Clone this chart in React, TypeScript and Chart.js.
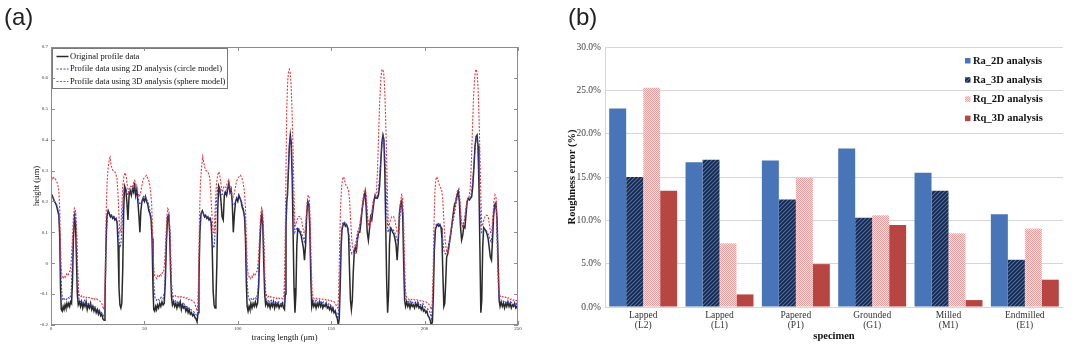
import React, { useEffect, useRef } from "react";
import { Chart, registerables } from "chart.js";

Chart.register(...registerables);

const SERIF = '"Liberation Serif", "Times New Roman", serif';
const SANS = '"Liberation Sans", Arial, sans-serif';

// ---------------- Panel (a): surface profiles ----------------
const profileXTicks = [0, 50, 100, 150, 200, 250];
const profileLegend = [
  "Original profile data",
  "Profile data using 2D analysis (circle model)",
  "Profile data using 3D analysis (sphere model)",
];

const originalProfile: [number, number][] = [
  [0,0.225],[0.6,0.22],[1.2,0.21],[1.8,0.2],[2.4,0.195],[3,0.185],[3.6,0.17],[4.2,0.155],[4.7,0.08],[5.1,-0.08],[5.5,-0.15],[6,-0.155],[6.5,-0.14],[7,-0.15],[7.5,-0.135],[8,-0.145],[8.5,-0.13],[9,-0.14],[9.5,-0.13],[10,-0.14],[10.5,-0.125],[11,-0.13],[11.5,-0.06],[12,0.08],[12.6,0.15],[13.1,0.13],[13.6,0.02],[14.1,-0.1],[14.6,-0.135],[15.2,-0.125],[15.8,-0.14],[16.4,-0.125],[17,-0.145],[17.6,-0.13],[18.2,-0.14],[18.8,-0.125],[19.4,-0.15],[20,-0.135],[20.6,-0.145],[21.2,-0.13],[21.8,-0.15],[22.4,-0.14],[23,-0.155],[23.6,-0.145],[24.2,-0.16],[24.8,-0.15],[25.4,-0.165],[26,-0.155],[26.6,-0.17],[27.2,-0.165],[27.8,-0.18],[28.4,-0.185],[28.9,-0.12],[29.4,0.05],[29.9,0.15],[30.6,0.17],[31.2,0.16],[31.8,0.15],[32.4,0.155],[33,0.145],[33.6,0.15],[34.2,0.14],[34.8,0.145],[35.4,0.13],[35.9,0.06],[36.4,-0.08],[36.9,-0.135],[37.4,-0.145],[37.9,-0.13],[38.4,-0.02],[38.9,0.17],[39.4,0.25],[40,0.24],[40.6,0.2],[41.2,0.14],[41.8,0.22],[42.4,0.235],[43,0.22],[43.6,0.24],[44.2,0.23],[44.7,0.26],[45.3,0.22],[45.9,0.24],[46.5,0.2],[47.1,0.15],[47.6,0.1],[48.1,0.17],[48.7,0.2],[49.3,0.21],[50,0.2],[50.6,0.215],[51.2,0.2],[51.8,0.19],[52.4,0.17],[53,0.16],[53.6,0.14],[54.1,0.08],[54.6,-0.08],[55,-0.15],
  [55.5,-0.155],[56,-0.14],[56.5,-0.15],[57,-0.135],[57.6,-0.145],[58.2,-0.13],[58.8,-0.14],[59.4,-0.125],[60,-0.135],[60.6,-0.13],[61.2,-0.06],[61.8,0.07],[62.4,0.15],[63,0.155],[63.5,0.1],[64,-0.02],[64.5,-0.11],[65,-0.135],[65.6,-0.125],[66.2,-0.14],[66.8,-0.13],[67.4,-0.145],[68,-0.13],[68.6,-0.14],[69.2,-0.125],[69.8,-0.15],[70.4,-0.135],[71,-0.145],[71.6,-0.14],[72.2,-0.155],[72.8,-0.145],[73.4,-0.16],[74,-0.15],[74.6,-0.165],[75.2,-0.16],[75.8,-0.17],[76.4,-0.165],[77,-0.175],[77.6,-0.18],[78.2,-0.19],[78.7,-0.16],[79.2,-0.05],[79.7,0.1],[80.3,0.16],[81,0.17],[81.6,0.16],[82.2,0.15],[82.8,0.155],[83.4,0.145],[84,0.15],[84.6,0.14],[85.2,0.145],[85.8,0.13],[86.3,0.05],[86.8,-0.09],[87.3,-0.135],[87.8,-0.145],[88.3,-0.12],[88.8,0.0],[89.3,0.18],[89.8,0.25],[90.4,0.24],[91,0.2],[91.6,0.15],[92.2,0.14],[92.8,0.22],[93.4,0.23],[94,0.22],[94.6,0.24],[95.2,0.26],[95.8,0.23],[96.4,0.24],[97,0.2],[97.6,0.1],[98.2,0.16],[98.8,0.2],[99.4,0.21],[100,0.2],[100.6,0.22],[101.2,0.21],[101.8,0.2],[102.4,0.18],[103,0.17],[103.6,0.15],[104.1,0.08],[104.6,-0.07],[105,-0.14],
  [105.5,-0.155],[106,-0.14],[106.5,-0.15],[107,-0.13],[107.6,-0.145],[108.2,-0.13],[108.8,-0.14],[109.4,-0.125],[110,-0.14],[110.6,-0.13],[111.2,-0.07],[111.8,0.06],[112.4,0.14],[112.9,0.16],[113.4,0.12],[113.9,0.0],[114.4,-0.1],[114.9,-0.135],[115.5,-0.125],[116.1,-0.14],[116.7,-0.13],[117.3,-0.145],[117.9,-0.13],[118.5,-0.14],[119.1,-0.125],[119.7,-0.145],[120.3,-0.13],[120.9,-0.14],[121.5,-0.13],[122.1,-0.145],[122.7,-0.135],[123.3,-0.14],[123.9,-0.13],[124.5,-0.145],[125,-0.15],
  [125.4,-0.1],[125.8,0.12],[126.2,0.2],[126.6,0.22],[127.1,0.3],[127.6,0.38],[128.1,0.415],[128.6,0.39],[129.1,0.28],[129.6,0.1],[130.1,-0.08],[130.6,-0.16],[131.1,-0.1],[131.6,0.06],[132.1,0.11],[132.7,0.105],[133.3,0.1],[133.9,0.09],[134.5,0.07],[135.1,0.05],[135.7,0.01],[136.3,0.06],[136.9,0.16],[137.5,0.2],[138.1,0.19],[138.6,0.1],[139.1,-0.05],[139.6,-0.14],[140.1,-0.125],[140.7,-0.14],[141.3,-0.13],[141.9,-0.145],[142.5,-0.13],[143.1,-0.14],[143.7,-0.125],[144.3,-0.14],[144.9,-0.13],[145.5,-0.145],[146.1,-0.135],[146.7,-0.14],[147.3,-0.13],[147.9,-0.145],[148.5,-0.14],[149.1,-0.15],[149.7,-0.14],[150.3,-0.155],[150.9,-0.145],[151.5,-0.16],[152.1,-0.155],[152.7,-0.17],[153.3,-0.18],[153.8,-0.2],[154.3,-0.18],[154.8,-0.08],[155.3,0.05],[155.8,0.11],[156.4,0.125],[157,0.13],[157.6,0.12],[158.2,0.125],[158.8,0.115],[159.3,0.09],[159.8,-0.02],[160.3,-0.12],[160.8,-0.15],[161.3,-0.12],[161.8,-0.03],[162.3,0.03],[162.9,0.05],[163.5,0.04],[164.1,0.08],[164.7,0.1],[165.3,0.1],[165.9,0.13],[166.5,0.17],[167.1,0.2],[167.7,0.22],[168.2,0.23],[168.7,0.18],[169.3,0.1],[169.9,0.075],[170.5,0.11],[171.1,0.15],[171.7,0.14],[172.3,0.17],[172.9,0.2],[173.5,0.22],[174.1,0.21],[174.7,0.21],[175.3,0.22],[175.9,0.25],[176.5,0.32],[177.1,0.39],[177.7,0.415],[178.2,0.4],[178.7,0.3],[179.2,0.12],[179.7,-0.06],[180.2,-0.16],
  [180.7,-0.1],[181.2,0.06],[181.7,0.115],[182.3,0.11],[182.9,0.1],[183.5,0.095],[184.1,0.08],[184.7,0.06],[185.3,0.01],[185.9,0.07],[186.5,0.16],[187.1,0.19],[187.7,0.2],[188.3,0.15],[188.8,0.0],[189.3,-0.12],[189.8,-0.14],[190.4,-0.125],[191,-0.14],[191.6,-0.13],[192.2,-0.145],[192.8,-0.13],[193.4,-0.14],[194,-0.135],[194.6,-0.145],[195.2,-0.13],[195.8,-0.14],[196.4,-0.13],[197,-0.145],[197.6,-0.14],[198.2,-0.15],[198.8,-0.14],[199.4,-0.155],[200,-0.15],[200.6,-0.16],[201.2,-0.155],[201.8,-0.17],[202.4,-0.175],[203,-0.185],[203.6,-0.2],[204.2,-0.19],[204.7,-0.1],[205.2,0.04],[205.8,0.11],[206.4,0.12],[207,0.125],[207.6,0.12],[208.2,0.125],[208.8,0.115],[209.3,0.08],[209.8,-0.04],[210.3,-0.14],[210.8,-0.13],[211.3,-0.06],[211.8,0.02],[212.3,0.03],[212.9,0.05],[213.5,0.075],[214.1,0.1],[214.7,0.13],[215.3,0.16],[216,0.19],[216.7,0.2],[217.4,0.22],[218,0.232],[218.6,0.2],[219.2,0.12],[219.8,0.075],[220.4,0.09],[221,0.12],[221.6,0.115],[222.2,0.16],[222.8,0.2],[223.4,0.21],[224,0.205],[224.6,0.21],[225.2,0.215],[225.8,0.25],[226.4,0.31],[227,0.38],[227.6,0.41],[228.1,0.415],[228.6,0.38],[229.1,0.25],[229.6,0.05],[230.1,-0.16],
  [230.6,-0.12],[231.1,0.05],[231.6,0.115],[232.2,0.11],[232.8,0.105],[233.4,0.095],[234,0.08],[234.6,0.05],[235.2,0.02],[235.8,0.01],[236.4,0.08],[237,0.16],[237.6,0.19],[238.2,0.195],[238.8,0.14],[239.4,0.0],[239.9,-0.12],[240.4,-0.14],[241,-0.125],[241.6,-0.14],[242.2,-0.13],[242.8,-0.145],[243.4,-0.13],[244,-0.14],[244.6,-0.125],[245.2,-0.14],[245.8,-0.13],[246.4,-0.145],[247,-0.135],[247.6,-0.14],[248.2,-0.13],[248.8,-0.145],[249.4,-0.14],[250,-0.15],
];

const profile2D: [number, number][] = [
  [0,0.22],[1,0.215],[2,0.2],[3,0.19],[4,0.17],[4.6,0.12],[5.2,-0.02],[5.8,-0.1],[6.4,-0.12],[7,-0.115],[8,-0.12],[9,-0.11],[10,-0.115],[10.8,-0.1],[11.4,0.0],[12,0.1],[12.6,0.155],[13.2,0.16],[13.8,0.08],[14.4,-0.05],[15,-0.12],[16,-0.125],[17,-0.13],[18,-0.12],[19,-0.135],[20,-0.13],[21,-0.135],[22,-0.14],[23,-0.14],[24,-0.15],[25,-0.15],[26,-0.155],[27,-0.16],[28,-0.17],[28.7,-0.16],[29.2,-0.05],[29.7,0.1],[30.3,0.165],[31,0.165],[32,0.155],[33,0.15],[34,0.15],[35,0.145],[35.6,0.13],[36.2,0.09],[36.8,0.05],[37.4,0.06],[38,0.12],[38.6,0.2],[39.2,0.245],[40,0.245],[41,0.22],[42,0.23],[43,0.23],[44,0.24],[44.8,0.25],[45.6,0.235],[46.4,0.22],[47.2,0.195],[47.8,0.19],[48.6,0.2],[49.4,0.215],[50.2,0.22],[51,0.21],[52,0.195],[53,0.17],[53.8,0.14],[54.4,0.05],[55,-0.06],[55.6,-0.11],
  [56.4,-0.12],[57.2,-0.115],[58,-0.12],[59,-0.11],[60,-0.115],[60.8,-0.09],[61.4,0.01],[62,0.11],[62.6,0.155],[63.2,0.16],[63.8,0.08],[64.4,-0.05],[65,-0.115],[66,-0.125],[67,-0.12],[68,-0.13],[69,-0.125],[70,-0.135],[71,-0.13],[72,-0.14],[73,-0.14],[74,-0.15],[75,-0.15],[76,-0.155],[77,-0.16],[78,-0.17],[78.6,-0.165],[79.1,-0.06],[79.6,0.09],[80.2,0.16],[81,0.165],[82,0.155],[83,0.15],[84,0.15],[85,0.145],[85.6,0.13],[86.2,0.09],[86.8,0.05],[87.4,0.055],[88,0.12],[88.6,0.2],[89.3,0.245],[90,0.245],[91,0.22],[92,0.225],[93,0.23],[94,0.235],[95,0.25],[95.8,0.235],[96.6,0.22],[97.4,0.19],[98,0.19],[98.8,0.2],[99.6,0.215],[100.4,0.22],[101.2,0.21],[102,0.2],[103,0.18],[103.8,0.14],[104.4,0.05],[105,-0.06],[105.6,-0.11],
  [106.4,-0.12],[107.2,-0.115],[108,-0.12],[109,-0.11],[110,-0.115],[110.8,-0.09],[111.4,0.0],[112,0.1],[112.6,0.155],[113.2,0.16],[113.8,0.08],[114.4,-0.05],[115,-0.115],[116,-0.12],[117,-0.125],[118,-0.12],[119,-0.13],[120,-0.125],[121,-0.13],[122,-0.125],[123,-0.13],[124,-0.13],[124.8,-0.13],
  [125.3,-0.06],[125.8,0.1],[126.3,0.2],[126.9,0.28],[127.5,0.37],[128.1,0.41],[128.7,0.38],[129.3,0.28],[129.9,0.16],[130.5,0.1],[131.2,0.11],[132,0.115],[133,0.11],[134,0.1],[134.8,0.085],[135.6,0.07],[136.3,0.1],[137,0.17],[137.8,0.2],[138.4,0.16],[139,0.0],[139.6,-0.11],[140.3,-0.12],[141,-0.125],[142,-0.12],[143,-0.13],[144,-0.125],[145,-0.13],[146,-0.125],[147,-0.13],[148,-0.135],[149,-0.13],[150,-0.14],[151,-0.145],[152,-0.15],[153,-0.16],[153.7,-0.18],[154.3,-0.13],[154.9,0.0],[155.5,0.1],[156.2,0.13],[157,0.135],[158,0.125],[159,0.115],[159.7,0.08],[160.4,0.04],[161.1,0.03],[161.8,0.035],[162.5,0.05],[163.3,0.07],[164.1,0.1],[165,0.115],[166,0.15],[167,0.19],[168,0.22],[168.8,0.2],[169.6,0.13],[170.4,0.12],[171.3,0.15],[172.2,0.18],[173.2,0.21],[174.2,0.21],[175,0.225],[175.8,0.27],[176.6,0.34],[177.3,0.39],[177.9,0.41],[178.5,0.38],[179.2,0.28],[179.8,0.16],[180.4,0.1],
  [181.1,0.11],[182,0.115],[183,0.11],[184,0.1],[184.8,0.085],[185.6,0.07],[186.3,0.1],[187,0.17],[187.8,0.2],[188.4,0.16],[189,0.0],[189.6,-0.11],[190.3,-0.12],[191,-0.125],[192,-0.12],[193,-0.13],[194,-0.125],[195,-0.13],[196,-0.125],[197,-0.13],[198,-0.135],[199,-0.13],[200,-0.14],[201,-0.145],[202,-0.15],[203,-0.16],[203.7,-0.18],[204.3,-0.13],[204.9,0.0],[205.5,0.1],[206.2,0.125],[207,0.13],[208,0.125],[209,0.115],[209.7,0.08],[210.4,0.04],[211.1,0.03],[211.8,0.035],[212.5,0.05],[213.3,0.075],[214.1,0.1],[215,0.13],[216,0.16],[217,0.2],[218,0.225],[218.8,0.2],[219.6,0.13],[220.4,0.12],[221.3,0.14],[222.2,0.18],[223.2,0.21],[224.2,0.21],[225,0.225],[225.8,0.27],[226.6,0.34],[227.3,0.39],[227.9,0.41],[228.5,0.38],[229.2,0.28],[229.8,0.16],[230.4,0.1],
  [231.1,0.105],[232,0.11],[233,0.105],[234,0.095],[234.8,0.08],[235.6,0.07],[236.3,0.1],[237,0.16],[237.8,0.19],[238.4,0.17],[239,0.02],[239.6,-0.1],[240.3,-0.12],[241,-0.125],[242,-0.12],[243,-0.13],[244,-0.125],[245,-0.13],[246,-0.125],[247,-0.13],[248,-0.135],[249,-0.13],[250,-0.14],
];

const profile3D: [number, number][] = [
  [0,0.26],[0.6,0.275],[1.2,0.28],[1.8,0.27],[2.4,0.272],[3,0.265],[3.6,0.255],[4.2,0.235],[4.7,0.17],[5.1,0.05],[5.5,-0.02],[6,-0.045],[6.6,-0.05],[7.2,-0.04],[7.8,-0.045],[8.4,-0.035],[9,-0.04],[9.6,-0.03],[10.2,-0.025],[10.8,0.0],[11.4,0.07],[12,0.15],[12.5,0.178],[13.1,0.17],[13.7,0.1],[14.2,-0.02],[14.7,-0.09],[15.2,-0.105],[15.8,-0.11],[16.5,-0.105],[17.2,-0.11],[18,-0.108],[18.8,-0.112],[19.6,-0.108],[20.4,-0.112],[21.2,-0.11],[22,-0.115],[22.8,-0.112],[23.6,-0.118],[24.4,-0.115],[25.2,-0.12],[26,-0.122],[26.8,-0.125],[27.5,-0.135],[28.2,-0.15],[28.7,-0.13],[29.1,0.0],[29.5,0.15],[30,0.26],[30.6,0.31],[31.2,0.335],[31.6,0.343],[32.1,0.32],[32.7,0.305],[33.3,0.3],[34,0.298],[34.7,0.29],[35.3,0.275],[35.9,0.22],[36.4,0.15],[36.9,0.1],[37.4,0.11],[37.9,0.18],[38.4,0.25],[39,0.28],[39.7,0.293],[40.3,0.28],[40.9,0.25],[41.5,0.23],[42.1,0.245],[42.8,0.25],[43.5,0.245],[44.2,0.26],[44.8,0.268],[45.4,0.255],[46,0.24],[46.7,0.225],[47.3,0.215],[47.9,0.225],[48.5,0.245],[49.1,0.265],[49.7,0.275],[50.4,0.28],[51.1,0.285],[51.8,0.275],[52.5,0.265],[53.2,0.24],[53.9,0.19],[54.4,0.1],[54.9,0.0],[55.4,-0.04],
  [56,-0.045],[56.6,-0.05],[57.2,-0.04],[57.8,-0.045],[58.4,-0.035],[59,-0.04],[59.6,-0.03],[60.2,-0.03],[60.8,0.0],[61.4,0.07],[62,0.15],[62.5,0.177],[63.1,0.17],[63.7,0.1],[64.2,-0.02],[64.7,-0.09],[65.2,-0.105],[65.8,-0.11],[66.5,-0.105],[67.2,-0.11],[68,-0.108],[68.8,-0.112],[69.6,-0.108],[70.4,-0.112],[71.2,-0.11],[72,-0.115],[72.8,-0.112],[73.6,-0.118],[74.4,-0.115],[75.2,-0.12],[76,-0.122],[76.8,-0.128],[77.5,-0.14],[78.2,-0.155],[78.7,-0.13],[79.1,0.0],[79.5,0.15],[80,0.26],[80.6,0.31],[81.2,0.345],[81.7,0.33],[82.3,0.31],[83,0.3],[83.7,0.298],[84.4,0.29],[85,0.275],[85.6,0.22],[86.2,0.15],[86.8,0.1],[87.4,0.1],[87.9,0.18],[88.5,0.25],[89.2,0.285],[89.9,0.296],[90.5,0.28],[91.1,0.25],[91.7,0.23],[92.3,0.245],[93,0.25],[93.7,0.245],[94.4,0.26],[95,0.268],[95.6,0.255],[96.2,0.24],[96.9,0.225],[97.5,0.215],[98.1,0.225],[98.7,0.245],[99.3,0.265],[100,0.275],[100.7,0.28],[101.4,0.285],[102.1,0.278],[102.8,0.262],[103.5,0.235],[104.1,0.18],[104.6,0.08],[105.1,-0.01],[105.6,-0.04],
  [106.2,-0.045],[106.8,-0.05],[107.4,-0.04],[108,-0.045],[108.6,-0.035],[109.2,-0.04],[109.8,-0.03],[110.4,-0.025],[111,0.01],[111.6,0.08],[112.2,0.155],[112.7,0.178],[113.3,0.165],[113.9,0.09],[114.4,-0.03],[114.9,-0.09],[115.4,-0.105],[116,-0.11],[116.8,-0.105],[117.6,-0.11],[118.4,-0.108],[119.2,-0.112],[120,-0.11],[120.8,-0.114],[121.6,-0.11],[122.4,-0.115],[123.2,-0.112],[124,-0.115],[124.6,-0.11],
  [125,-0.05],[125.4,0.1],[125.8,0.3],[126.2,0.5],[126.7,0.59],[127.2,0.622],[127.6,0.628],[128.1,0.615],[128.6,0.57],[129.1,0.48],[129.6,0.36],[130.1,0.22],[130.6,0.12],[131.1,0.125],[131.7,0.14],[132.3,0.15],[132.9,0.152],[133.5,0.15],[134.1,0.14],[134.7,0.12],[135.3,0.1],[135.9,0.097],[136.5,0.14],[137.1,0.2],[137.7,0.221],[138.3,0.21],[138.8,0.13],[139.3,0.0],[139.8,-0.09],[140.3,-0.11],[141,-0.115],[141.8,-0.112],[142.6,-0.116],[143.4,-0.113],[144.2,-0.117],[145,-0.115],[145.8,-0.118],[146.6,-0.116],[147.4,-0.12],[148.2,-0.118],[149,-0.122],[149.8,-0.12],[150.6,-0.125],[151.4,-0.124],[152.2,-0.13],[152.9,-0.14],[153.5,-0.145],[154,-0.1],[154.5,0.05],[155,0.18],[155.6,0.25],[156.2,0.275],[156.7,0.28],[157.3,0.265],[158,0.25],[158.7,0.245],[159.3,0.235],[159.9,0.2],[160.5,0.13],[161.1,0.07],[161.7,0.045],[162.3,0.035],[162.9,0.032],[163.5,0.045],[164.1,0.075],[164.7,0.1],[165.3,0.12],[165.9,0.15],[166.5,0.18],[167.1,0.21],[167.7,0.235],[168.2,0.242],[168.8,0.22],[169.4,0.16],[170,0.12],[170.6,0.118],[171.2,0.14],[171.8,0.165],[172.4,0.2],[173,0.21],[173.6,0.215],[174.2,0.23],[174.8,0.3],[175.4,0.42],[176,0.53],[176.6,0.6],[177.1,0.625],[177.6,0.628],[178.1,0.615],[178.6,0.57],[179.1,0.48],[179.6,0.36],[180.1,0.22],[180.6,0.12],
  [181.1,0.125],[181.7,0.14],[182.3,0.15],[182.9,0.152],[183.5,0.15],[184.1,0.14],[184.7,0.12],[185.3,0.1],[185.9,0.097],[186.5,0.14],[187.1,0.2],[187.7,0.221],[188.3,0.21],[188.8,0.13],[189.3,0.0],[189.8,-0.09],[190.3,-0.11],[191,-0.115],[191.8,-0.118],[192.6,-0.115],[193.4,-0.12],[194.2,-0.117],[195,-0.12],[195.8,-0.118],[196.6,-0.122],[197.4,-0.12],[198.2,-0.124],[199,-0.122],[199.8,-0.126],[200.6,-0.125],[201.4,-0.128],[202.2,-0.132],[202.9,-0.14],[203.5,-0.15],[204,-0.14],[204.5,-0.05],[205,0.12],[205.5,0.23],[206,0.27],[206.5,0.28],[207.1,0.27],[207.8,0.255],[208.5,0.245],[209.1,0.238],[209.7,0.21],[210.3,0.14],[210.9,0.08],[211.5,0.05],[212.1,0.035],[212.7,0.032],[213.3,0.06],[213.9,0.1],[214.5,0.12],[215.1,0.145],[215.7,0.165],[216.3,0.19],[216.9,0.215],[217.6,0.235],[218.4,0.242],[219,0.2],[219.6,0.14],[220.2,0.118],[220.8,0.12],[221.4,0.14],[222,0.17],[222.6,0.2],[223.2,0.212],[223.8,0.215],[224.4,0.24],[225,0.32],[225.6,0.43],[226.2,0.54],[226.8,0.6],[227.2,0.622],[227.6,0.628],[228.1,0.615],[228.6,0.57],[229.1,0.48],[229.6,0.36],[230.1,0.22],[230.6,0.12],
  [231.1,0.125],[231.7,0.14],[232.3,0.15],[232.9,0.155],[233.5,0.155],[234.1,0.15],[234.7,0.125],[235.3,0.1],[235.9,0.1],[236.5,0.15],[237.1,0.2],[237.7,0.221],[238.3,0.21],[238.8,0.13],[239.3,0.0],[239.8,-0.09],[240.3,-0.105],[241,-0.11],[241.8,-0.108],[242.6,-0.112],[243.4,-0.11],[244.2,-0.115],[245,-0.112],[245.8,-0.118],[246.6,-0.115],[247.4,-0.12],[248.2,-0.118],[249,-0.122],[249.6,-0.12],[250,-0.125],
];

// ---------------- Panel (b): roughness errors ----------------
const specimens = [
  ["Lapped", "(L2)"],
  ["Lapped", "(L1)"],
  ["Papered", "(P1)"],
  ["Grounded", "(G1)"],
  ["Milled", "(M1)"],
  ["Endmilled", "(E1)"],
];
const roughnessSeries = ["Ra_2D analysis", "Ra_3D analysis", "Rq_2D analysis", "Rq_3D analysis"];
const ra2D = [22.9, 16.7, 16.9, 18.3, 15.5, 10.7];
const ra3D = [15.0, 17.0, 12.4, 10.3, 13.4, 5.45];
const rq2D = [25.3, 7.35, 14.9, 10.6, 8.5, 9.05];
const rq3D = [13.4, 1.45, 4.95, 9.45, 0.8, 3.15];

function hatchPattern(): any {
  const c = document.createElement("canvas");
  c.width = 4; c.height = 4;
  const g = c.getContext("2d");
  if (!g) return "#1f3050";
  g.fillStyle = "#14264a";
  g.fillRect(0, 0, 4, 4);
  g.strokeStyle = "#4d72ab";
  g.lineWidth = 1.1;
  g.beginPath();
  g.moveTo(-1, 5); g.lineTo(5, -1);
  g.moveTo(-1, 1); g.lineTo(1, -1);
  g.moveTo(3, 5); g.lineTo(5, 3);
  g.stroke();
  return g.createPattern(c, "repeat") || "#1f3050";
}

function checkerPattern(): any {
  const c = document.createElement("canvas");
  c.width = 2; c.height = 2;
  const g = c.getContext("2d");
  if (!g) return "#f2bcbc";
  g.fillStyle = "#fce6e6";
  g.fillRect(0, 0, 2, 2);
  g.fillStyle = "#eb9d9d";
  g.fillRect(0, 0, 1, 1);
  g.fillRect(1, 1, 1, 1);
  return g.createPattern(c, "repeat") || "#f2bcbc";
}

const frameTicksPlugin = {
  id: "frameTicks",
  afterDraw(chart: any) {
    const { ctx, chartArea } = chart;
    const { left, right, top, bottom } = chartArea;
    const xs = chart.scales.x;
    const ys = chart.scales.y;
    ctx.save();
    ctx.strokeStyle = "#8c8c8c";
    ctx.lineWidth = 1;
    ctx.strokeRect(Math.round(left) + 0.5, Math.round(top) + 0.5, Math.round(right - left) - 1, Math.round(bottom - top) - 1);
    ctx.beginPath();
    xs.ticks.forEach((t: any) => {
      const px = Math.round(xs.getPixelForValue(t.value)) + 0.5;
      ctx.moveTo(px, bottom); ctx.lineTo(px, bottom - 4);
      ctx.moveTo(px, top); ctx.lineTo(px, top + 4);
    });
    ys.ticks.forEach((t: any) => {
      const py = Math.round(ys.getPixelForValue(t.value)) + 0.5;
      ctx.moveTo(left, py); ctx.lineTo(left + 4, py);
      ctx.moveTo(right, py); ctx.lineTo(right - 4, py);
    });
    ctx.stroke();
    ctx.restore();
  },
};

const profileLegendPlugin = {
  id: "profileLegend",
  afterDatasetsDraw(chart: any) {
    const { ctx, chartArea } = chart;
    const x0 = Math.round(chartArea.left) + 1.5;
    const y0 = Math.round(chartArea.top) + 1.5;
    ctx.save();
    ctx.fillStyle = "#ffffff";
    ctx.fillRect(x0, y0, 175, 40);
    ctx.strokeStyle = "#7a7a7a";
    ctx.lineWidth = 1;
    ctx.strokeRect(x0, y0, 175, 40);
    ctx.font = `8.5px ${SERIF}`;
    ctx.textBaseline = "middle";
    ctx.textAlign = "left";
    profileLegend.forEach((label, i) => {
      const ds = chart.data.datasets[i];
      const yy = y0 + 8 + i * 12.5;
      ctx.strokeStyle = ds.borderColor;
      ctx.lineWidth = ds.borderWidth;
      ctx.setLineDash(ds.borderDash || []);
      ctx.beginPath();
      ctx.moveTo(x0 + 4, yy);
      ctx.lineTo(x0 + 16, yy);
      ctx.stroke();
      ctx.setLineDash([]);
      ctx.fillStyle = "#111";
      ctx.fillText(label, x0 + 17.5, yy);
    });
    ctx.restore();
  },
};

const barLegendPlugin = {
  id: "barLegend",
  afterDatasetsDraw(chart: any) {
    const { ctx, chartArea } = chart;
    const sx = chartArea.left + 360;
    ctx.save();
    ctx.font = `bold 10.5px ${SERIF}`;
    ctx.textBaseline = "middle";
    ctx.textAlign = "left";
    roughnessSeries.forEach((label, i) => {
      const ds = chart.data.datasets[i];
      const yy = chartArea.top + 14 + i * 19.2;
      ctx.fillStyle = ds.backgroundColor;
      ctx.fillRect(sx, yy - 3, 5.5, 5.5);
      ctx.fillStyle = "#111";
      ctx.fillText(label, sx + 8, yy);
    });
    ctx.restore();
  },
};

export default function App() {
  const refA = useRef<HTMLCanvasElement | null>(null);
  const refB = useRef<HTMLCanvasElement | null>(null);

  useEffect(() => {
    if (!refA.current || !refB.current) return;
    const toPts = (arr: [number, number][]) => arr.map(([x, y]) => ({ x, y }));

    const chartA = new Chart(refA.current, {
      type: "line",
      data: {
        datasets: [
          { label: profileLegend[0], data: toPts(originalProfile), borderColor: "#2a2a2a", borderWidth: 1.5, pointRadius: 0, order: 3 },
          { label: profileLegend[1], data: toPts(profile2D), borderColor: "#3b3bd8", borderWidth: 1.1, borderDash: [2, 1.5], pointRadius: 0, order: 2 },
          { label: profileLegend[2], data: toPts(profile3D), borderColor: "#e8333b", borderWidth: 1.1, borderDash: [2, 1.5], pointRadius: 0, order: 1 },
        ] as any,
      },
      options: {
        animation: false,
        responsive: false,
        layout: { padding: { left: 0, top: 47, right: 22, bottom: 0 } },
        plugins: { legend: { display: false }, tooltip: { enabled: false } },
        scales: {
          x: {
            type: "linear",
            min: 0,
            max: 250,
            afterBuildTicks: (s: any) => { s.ticks = profileXTicks.map((v) => ({ value: v })); },
            ticks: { font: { family: SERIF, size: 5 }, color: "#333", padding: 0.5, maxRotation: 0 },
            grid: { display: false, drawTicks: false },
            border: { display: false },
            title: { display: true, text: "tracing length (μm)", font: { family: SERIF, size: 8.5 }, color: "#111", padding: { top: 0, bottom: 11.9 } },
            afterFit: (s: any) => { s.height = 30; },
          },
          y: {
            type: "linear",
            min: -0.2,
            max: 0.7,
            ticks: {
              stepSize: 0.1,
              font: { family: SERIF, size: 5 },
              color: "#333",
              padding: 3,
              callback: (v: any) => String(Math.round(Number(v) * 10) / 10),
            },
            grid: { display: false, drawTicks: false },
            border: { display: false },
            title: { display: true, text: "height (μm)", font: { family: SERIF, size: 8.5 }, color: "#111", padding: { top: 31.9, bottom: 0 } },
            afterFit: (s: any) => { s.width = 51; },
          },
        },
      } as any,
      plugins: [profileLegendPlugin, frameTicksPlugin],
    });

    const chartB = new Chart(refB.current, {
      type: "bar",
      data: {
        labels: specimens,
        datasets: [
          { label: roughnessSeries[0], data: ra2D, backgroundColor: "#4874b8" },
          { label: roughnessSeries[1], data: ra3D, backgroundColor: hatchPattern() },
          { label: roughnessSeries[2], data: rq2D, backgroundColor: checkerPattern() },
          { label: roughnessSeries[3], data: rq3D, backgroundColor: "#b74542" },
        ] as any,
      },
      options: {
        animation: false,
        responsive: false,
        layout: { padding: { left: 0, top: 47, right: 17, bottom: 0 } },
        datasets: { bar: { categoryPercentage: 0.89, barPercentage: 1.0, borderWidth: 0 } },
        plugins: { legend: { display: false }, tooltip: { enabled: false } },
        scales: {
          x: {
            ticks: { font: { family: SERIF, size: 9.5, lineHeight: 1.1 }, color: "#333", padding: 3, maxRotation: 0, autoSkip: false },
            grid: { display: false, drawTicks: false },
            border: { display: false },
            title: { display: true, text: "specimen", font: { family: SERIF, size: 10.5, weight: "bold" }, color: "#111", padding: { top: 0, bottom: 12 } },
            afterFit: (s: any) => { s.height = 48; },
          },
          y: {
            min: 0,
            max: 30,
            ticks: {
              stepSize: 5,
              font: { family: SERIF, size: 9.5 },
              color: "#404040",
              padding: 4,
              callback: (v: any) => Number(v).toFixed(1) + "%",
            },
            grid: { color: "#d6d6d6", lineWidth: 1, drawTicks: false },
            border: { display: true, color: "#d6d6d6" },
            title: { display: true, text: "Roughness error (%)", font: { family: SERIF, size: 10.5, weight: "bold" }, color: "#111", padding: { top: 25.7, bottom: 0 } },
            afterFit: (s: any) => { s.width = 65; },
          },
        },
      } as any,
      plugins: [barLegendPlugin],
    });

    return () => {
      chartA.destroy();
      chartB.destroy();
    };
  }, []);

  return (
    <div style={{ position: "absolute", left: 0, top: 0, width: 1080, height: 355, background: "#ffffff", overflow: "hidden" }}>
      <div style={{ position: "absolute", left: 0, top: 0, width: 540, height: 355 }}>
        <canvas ref={refA} width={540} height={355} style={{ display: "block" }} />
      </div>
      <div style={{ position: "absolute", left: 540, top: 0, width: 540, height: 355 }}>
        <canvas ref={refB} width={540} height={355} style={{ display: "block" }} />
      </div>
      <div style={{ position: "absolute", left: 4, top: 5, fontFamily: SANS, fontSize: 24, lineHeight: "24px", color: "#222" }}>(a)</div>
      <div style={{ position: "absolute", left: 568, top: 5, fontFamily: SANS, fontSize: 24, lineHeight: "24px", color: "#222" }}>(b)</div>
    </div>
  );
}
